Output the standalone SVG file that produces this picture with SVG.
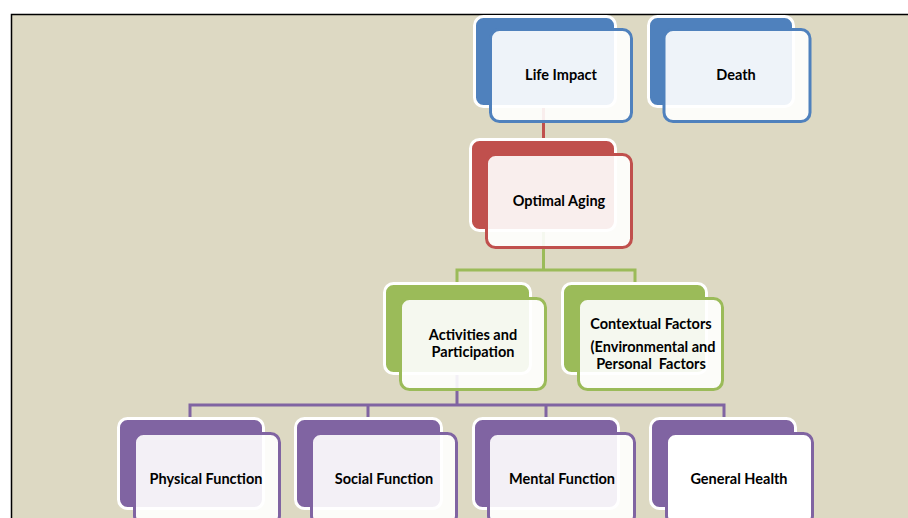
<svg xmlns="http://www.w3.org/2000/svg" width="908" height="518" viewBox="0 0 908 518">
<style>
.bg{fill:#DDD9C3;stroke:#000;stroke-width:1.5}
.back{stroke:#fff;stroke-width:3}
.front{fill:#fff;fill-opacity:0.9;stroke-width:3}
.blue .back{fill:#4F81BD}.blue .front{stroke:#4F81BD}
.red .back{fill:#C0504D}.red .front{stroke:#C0504D}
.green .back{fill:#9BBB59}.green .front{stroke:#9BBB59}
.purple .back{fill:#8064A2}.purple .front{stroke:#8064A2}
.lbl{font-family:Lato,"Liberation Sans",sans-serif;font-weight:bold;font-size:14.5px;fill:#000;text-anchor:middle}
.c{fill:none;stroke-width:3}
</style>
<rect x="0" y="0" width="908" height="518" fill="#fff"/>
<rect class="bg" x="11.5" y="14.5" width="910" height="520"/>
<g id="connectors">
<path class="c" stroke="#C0504D" d="M543.5,108 V142"/>
<path class="c" stroke="#9BBB59" d="M543.5,232 V270 M457,285 V270 H635 V285"/>
<path class="c" stroke="#8064A2" d="M457,375 V405 M190,420 V405 H724 V420 M368,405 V420 M546,405 V420"/>
</g>
<g id="life-impact" class="blue">
<rect class="back" x="474.5" y="16.5" width="141" height="90" rx="9"/>
<rect class="front" x="490.5" y="29.5" width="141" height="92" rx="9"/>
<text class="lbl" x="561" y="80">Life Impact</text>
</g>
<g id="death" class="blue">
<rect class="back" x="648.5" y="16.5" width="145" height="90" rx="9"/>
<rect class="front" x="664" y="29.5" width="146" height="92" rx="9"/>
<text class="lbl" x="736" y="80">Death</text>
</g>
<g id="optimal-aging" class="red">
<rect class="back" x="470.5" y="139.5" width="145" height="91" rx="9"/>
<rect class="front" x="486.5" y="154.5" width="145" height="93" rx="9"/>
<text class="lbl" x="559" y="206">Optimal Aging</text>
</g>
<g id="activities" class="green">
<rect class="back" x="384.5" y="283.5" width="146" height="90" rx="9"/>
<rect class="front" x="400.5" y="298.5" width="145" height="91" rx="9"/>
<text class="lbl" x="473" y="340">Activities and</text>
<text class="lbl" x="473" y="357">Participation</text>
</g>
<g id="contextual" class="green">
<rect class="back" x="562.5" y="283.5" width="144" height="90" rx="9"/>
<rect class="front" x="578.5" y="298.5" width="144" height="91" rx="9"/>
<text class="lbl" x="651" y="329">Contextual Factors</text>
<text class="lbl" x="653" y="352">(Environmental and</text>
<text class="lbl" x="651" y="369" xml:space="preserve">Personal  Factors</text>
</g>
<g id="physical" class="purple">
<rect class="back" x="118.5" y="418.5" width="145" height="90" rx="9"/>
<rect class="front" x="134.5" y="433.5" width="145" height="91" rx="9"/>
<text class="lbl" x="206" y="484">Physical Function</text>
</g>
<g id="social" class="purple">
<rect class="back" x="295.5" y="418.5" width="146" height="90" rx="9"/>
<rect class="front" x="311.5" y="433.5" width="145" height="91" rx="9"/>
<text class="lbl" x="384" y="484">Social Function</text>
</g>
<g id="mental" class="purple">
<rect class="back" x="473.5" y="418.5" width="145" height="90" rx="9"/>
<rect class="front" x="488.5" y="433.5" width="146" height="91" rx="9"/>
<text class="lbl" x="562" y="484">Mental Function</text>
</g>
<g id="general-health" class="purple">
<rect class="back" x="650.5" y="418.5" width="145" height="90" rx="9"/>
<rect class="front" x="666.5" y="433.5" width="146" height="91" rx="9" style="fill-opacity:1"/>
<text class="lbl" x="739" y="484">General Health</text>
</g>
</svg>
